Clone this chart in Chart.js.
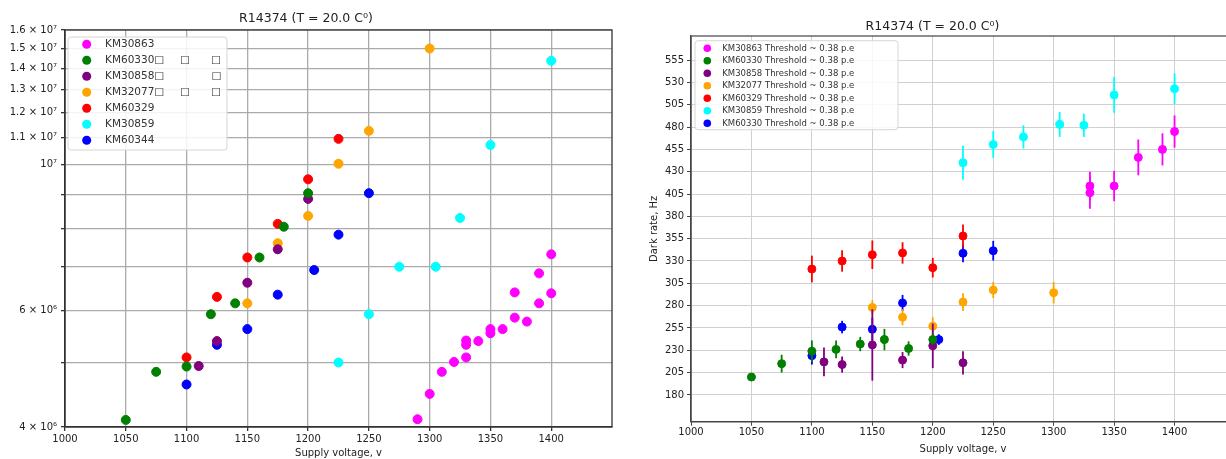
<!DOCTYPE html>
<html>
<head>
<meta charset="utf-8">
<script src="https://cdn.jsdelivr.net/npm/chart.js@4.4.1/dist/chart.umd.min.js"></script>
<style>
  html, body { margin: 0; padding: 0; background: #fff; overflow: hidden; }
  body { width: 1226px; height: 459px; position: relative; }
  .panel { position: absolute; top: 0; height: 459px; }
  #left { left: 0; width: 620px; }
  #right { left: 630px; width: 620px; }
</style>
</head>
<body>
<div class="panel" id="left"><canvas id="gainChart"></canvas></div>
<div class="panel" id="right"><canvas id="darkChart"></canvas></div>
<script>
const chartTitle = 'R14374 (T = 20.0 C\u2070)';
const xLabel = 'Supply voltage, v';
const darkLabel = 'Dark rate, Hz';

const colors = ['magenta', 'green', 'purple', 'orange', 'red', 'cyan', 'blue'];
const gainNames = ['KM30863', 'KM60330', 'KM30858', 'KM32077', 'KM60329', 'KM30859', 'KM60344'];
// the original legend shows broken glyph boxes after three names
const gainLegend = [
  'KM30863',
  'KM60330\u25A1\u2003\u2002\u25A1\u2003\u2003\u25A1',
  'KM30858\u25A1\u2003\u2003\u2003\u2003\u2002\u25A1',
  'KM32077\u25A1\u2003\u2002\u25A1\u2003\u2003\u25A1',
  'KM60329',
  'KM30859',
  'KM60344'
];
const darkNames = [
  'KM30863 Threshold ~ 0.38 p.e',
  'KM60330 Threshold ~ 0.38 p.e',
  'KM30858 Threshold ~ 0.38 p.e',
  'KM32077 Threshold ~ 0.38 p.e',
  'KM60329 Threshold ~ 0.38 p.e',
  'KM30859 Threshold ~ 0.38 p.e',
  'KM60330 Threshold ~ 0.38 p.e'
];

const voltTicks = [1000, 1050, 1100, 1150, 1200, 1250, 1300, 1350, 1400];

const gainTicks = [4e6, 5e6, 6e6, 7e6, 8e6, 9e6, 1e7, 1.1e7, 1.2e7, 1.3e7, 1.4e7, 1.5e7, 1.6e7];
const gainTickLabels = ['4 \u00d7 10\u2076', '', '6 \u00d7 10\u2076', '', '', '', '10\u2077',
  '1.1 \u00d7 10\u2077', '1.2 \u00d7 10\u2077', '1.3 \u00d7 10\u2077', '1.4 \u00d7 10\u2077',
  '1.5 \u00d7 10\u2077', '1.6 \u00d7 10\u2077'];

const darkTicks = [180, 205, 230, 255, 280, 305, 330, 355, 380, 405, 430, 455, 480, 505, 530, 555];

// gain vs voltage
const gainV_KM30863 = [1290, 1300, 1310, 1320, 1330, 1330, 1330, 1340, 1350, 1350, 1360, 1370, 1370, 1380, 1390, 1390, 1400, 1400];
const gain_KM30863 = [4.11e6, 4.49e6, 4.85e6, 5.02e6, 5.1e6, 5.33e6, 5.41e6, 5.4e6, 5.55e6, 5.63e6, 5.63e6, 5.86e6, 6.4e6, 5.78e6, 6.16e6, 6.84e6, 6.38e6, 7.31e6];
const gainV_KM60330 = [1050, 1075, 1100, 1120, 1140, 1160, 1180, 1200];
const gain_KM60330 = [4.1e6, 4.85e6, 4.94e6, 5.93e6, 6.16e6, 7.23e6, 8.05e6, 9.05e6];
const gainV_KM30858 = [1110, 1125, 1150, 1175, 1200];
const gain_KM30858 = [4.95e6, 5.4e6, 6.62e6, 7.44e6, 8.87e6];
const gainV_KM32077 = [1150, 1175, 1200, 1225, 1250, 1300];
const gain_KM32077 = [6.16e6, 7.6e6, 8.36e6, 1.003e7, 1.125e7, 1.5e7];
const gainV_KM60329 = [1100, 1125, 1150, 1175, 1200, 1225];
const gain_KM60329 = [5.1e6, 6.3e6, 7.23e6, 8.13e6, 9.5e6, 1.094e7];
const gainV_KM30859 = [1225, 1250, 1275, 1305, 1325, 1350, 1400];
const gain_KM30859 = [5.01e6, 5.93e6, 7.0e6, 7.0e6, 8.3e6, 1.071e7, 1.437e7];
const gainV_KM60344 = [1100, 1125, 1150, 1175, 1205, 1225, 1250];
const gain_KM60344 = [4.64e6, 5.33e6, 5.63e6, 6.35e6, 6.92e6, 7.83e6, 9.05e6];

// dark rate vs voltage, with errors
const darkV_KM30863 = [1330, 1330, 1350, 1370, 1390, 1400];
const dark_KM30863 = [414, 406.5, 414, 446, 455, 475];
const darkErr_KM30863 = [16, 18, 17, 20, 18, 18];
const darkV_KM60330 = [1050, 1075, 1100, 1120, 1140, 1160, 1180, 1200];
const dark_KM60330 = [200, 215, 229, 231, 237, 242, 232, 242];
const darkErr_KM60330 = [4, 10, 12, 10, 8, 12, 8, 6];
const darkV_KM30858 = [1110, 1125, 1150, 1175, 1200, 1225];
const dark_KM30858 = [217, 214, 236, 219, 235, 216];
const darkErr_KM30858 = [16, 9, 40, 9, 25, 13];
const darkV_KM32077 = [1150, 1175, 1200, 1225, 1250, 1300];
const dark_KM32077 = [278, 267, 257, 284, 297.5, 294.5];
const darkErr_KM32077 = [8, 9, 10, 10, 9, 12];
const darkV_KM60329 = [1100, 1125, 1150, 1175, 1200, 1225];
const dark_KM60329 = [321, 330, 337, 339, 322.5, 358];
const darkErr_KM60329 = [15, 12, 16, 12, 11, 13];
const darkV_KM30859 = [1225, 1250, 1275, 1305, 1325, 1350, 1400];
const dark_KM30859 = [440, 460.5, 469, 483, 482, 516, 523];
const darkErr_KM30859 = [19, 15, 13, 14, 13, 20, 17];
const darkV_KM60330b = [1100, 1125, 1150, 1175, 1205, 1225, 1250];
const dark_KM60330b = [224, 256, 253.5, 283, 242, 338.6, 341.5];
const darkErr_KM60330b = [10, 7, 13, 9, 6, 10, 11];

const gainX = [gainV_KM30863, gainV_KM60330, gainV_KM30858, gainV_KM32077, gainV_KM60329, gainV_KM30859, gainV_KM60344];
const gainY = [gain_KM30863, gain_KM60330, gain_KM30858, gain_KM32077, gain_KM60329, gain_KM30859, gain_KM60344];
const darkX = [darkV_KM30863, darkV_KM60330, darkV_KM30858, darkV_KM32077, darkV_KM60329, darkV_KM30859, darkV_KM60330b];
const darkY = [dark_KM30863, dark_KM60330, dark_KM30858, dark_KM32077, dark_KM60329, dark_KM30859, dark_KM60330b];
const darkE = [darkErr_KM30863, darkErr_KM60330, darkErr_KM30858, darkErr_KM32077, darkErr_KM60329, darkErr_KM30859, darkErr_KM60330b];

const FONT = '"DejaVu Sans", sans-serif';
Chart.defaults.font.family = FONT;
Chart.defaults.color = '#333';

const toPoints = (xs, ys) => xs.map((x, i) => ({x: x, y: ys[i]}));

const errorBars = {
  id: 'errorBars',
  beforeDatasetDraw(chart, args) {
    const ds = chart.data.datasets[args.index];
    if (!ds.err) return;
    const ctx = chart.ctx;
    const yScale = chart.scales.y;
    ctx.save();
    ctx.strokeStyle = ds.backgroundColor;
    ctx.lineWidth = 1.8;
    args.meta.data.forEach((pt, i) => {
      const v = ds.data[i].y;
      ctx.beginPath();
      ctx.moveTo(pt.x, yScale.getPixelForValue(v - ds.err[i]));
      ctx.lineTo(pt.x, yScale.getPixelForValue(v + ds.err[i]));
      ctx.stroke();
    });
    ctx.restore();
  }
};

const frame = {
  id: 'frame',
  afterDatasetsDraw(chart, args, opts) {
    const {ctx, chartArea: a} = chart;
    ctx.save();
    ctx.strokeStyle = opts.color;
    ctx.lineWidth = opts.width;
    ctx.strokeRect(a.left, a.top, a.right - a.left, a.bottom - a.top);
    ctx.restore();
  }
};

const boxLegend = {
  id: 'boxLegend',
  afterDraw(chart, args, opts) {
    const {ctx, chartArea} = chart;
    const x0 = chartArea.left + opts.dx;
    const y0 = chartArea.top + opts.dy;
    ctx.save();
    ctx.fillStyle = 'rgba(255,255,255,0.85)';
    ctx.strokeStyle = '#d5d5d5';
    ctx.lineWidth = 1;
    ctx.beginPath();
    ctx.roundRect(x0, y0, opts.width, opts.height, 3);
    ctx.fill();
    ctx.stroke();
    ctx.font = opts.fontSize + 'px ' + FONT;
    ctx.textBaseline = 'middle';
    chart.data.datasets.forEach((ds, i) => {
      const cy = y0 + opts.firstRow + i * opts.rowStep;
      ctx.fillStyle = ds.backgroundColor;
      ctx.beginPath();
      ctx.arc(x0 + opts.markerX, cy, opts.markerR, 0, Math.PI * 2);
      ctx.fill();
      ctx.fillStyle = '#333';
      ctx.fillText(ds.legendText || ds.label, x0 + opts.textX, cy);
    });
    ctx.restore();
  }
};

new Chart(document.getElementById('gainChart'), {
  type: 'scatter',
  data: {
    datasets: gainNames.map((name, i) => ({
      label: name,
      legendText: gainLegend[i],
      data: toPoints(gainX[i], gainY[i]),
      backgroundColor: colors[i],
      borderColor: colors[i],
      borderWidth: 1,
      pointRadius: 4.5,
      pointHoverRadius: 4.5
    }))
  },
  options: {
    responsive: true,
    maintainAspectRatio: false,
    animation: false,
    layout: { padding: { left: 0, right: 8, top: 0, bottom: 0 } },
    plugins: {
      legend: { display: false },
      tooltip: { enabled: false },
      title: {
        display: true, text: chartTitle, color: '#222',
        font: { size: 12.5, weight: 'normal' },
        padding: { top: 11, bottom: 4 }
      },
      frame: { color: '#333', width: 1.3 },
      boxLegend: { dx: 3, dy: 7, width: 159, height: 113, firstRow: 7.3, rowStep: 16,
        markerX: 18.7, markerR: 4.5, textX: 37, fontSize: 10.5 }
    },
    scales: {
      x: {
        type: 'linear', min: 1000, max: 1450,
        afterBuildTicks: s => { s.ticks = voltTicks.map(v => ({value: v})); },
        afterFit: s => { s.height = 32; },
        ticks: { autoSkip: false, maxRotation: 0, padding: 2, color: '#222', font: { size: 10 },
          callback: v => String(v) },
        grid: { color: '#ababab', lineWidth: 1.3, tickColor: '#333', tickLength: 4 },
        border: { display: true, color: '#333', width: 1.3 },
        title: { display: true, text: xLabel, color: '#222', font: { size: 10 }, padding: { top: 0, bottom: 0 } }
      },
      y: {
        type: 'logarithmic', min: 4e6, max: 1.6e7,
        afterBuildTicks: s => { s.ticks = gainTicks.map(v => ({value: v})); },
        afterFit: s => { s.width = 65; },
        ticks: {
          autoSkip: false, padding: 4, color: '#222', font: { size: 10 },
          callback: v => gainTickLabels[gainTicks.indexOf(v)]
        },
        grid: { color: '#ababab', lineWidth: 1.3, tickColor: '#333', tickLength: 4 },
        border: { display: true, color: '#333', width: 1.3 }
      }
    }
  },
  plugins: [errorBars, frame, boxLegend]
});

new Chart(document.getElementById('darkChart'), {
  type: 'scatter',
  data: {
    datasets: darkNames.map((name, i) => ({
      label: name,
      data: toPoints(darkX[i], darkY[i]),
      err: darkE[i],
      backgroundColor: colors[i],
      borderColor: colors[i],
      borderWidth: 1,
      pointRadius: 4,
      pointHoverRadius: 4
    }))
  },
  options: {
    responsive: true,
    maintainAspectRatio: false,
    animation: false,
    layout: { padding: { left: 0, right: 15, top: 0, bottom: 0 } },
    plugins: {
      legend: { display: false },
      tooltip: { enabled: false },
      title: {
        display: true, text: chartTitle, color: '#222',
        font: { size: 12.5, weight: 'normal' },
        padding: { top: 19, bottom: 2 }
      },
      frame: { color: '#444', width: 1.2 },
      boxLegend: { dx: 4, dy: 4.7, width: 203, height: 89, firstRow: 7.6, rowStep: 12.5,
        markerX: 12.3, markerR: 3.8, textX: 27.3, fontSize: 8.5 }
    },
    scales: {
      x: {
        type: 'linear', min: 1000, max: 1450,
        afterBuildTicks: s => { s.ticks = voltTicks.map(v => ({value: v})); },
        afterFit: s => { s.height = 37.3; },
        ticks: { autoSkip: false, maxRotation: 0, padding: 1, color: '#222', font: { size: 10 },
          callback: v => String(v) },
        grid: { color: '#d0d0d0', lineWidth: 1, tickColor: '#444', tickLength: 4 },
        border: { display: true, color: '#444', width: 1.2 },
        title: { display: true, text: xLabel, color: '#222', font: { size: 10 }, padding: { top: 0, bottom: 4 } }
      },
      y: {
        type: 'linear', min: 150, max: 582,
        afterBuildTicks: s => { s.ticks = darkTicks.map(v => ({value: v})); },
        afterFit: s => { s.width = 61; },
        ticks: { autoSkip: false, padding: 3, color: '#222', font: { size: 10 } },
        grid: { color: '#d0d0d0', lineWidth: 1, tickColor: '#444', tickLength: 4 },
        border: { display: true, color: '#444', width: 1.2 },
        title: { display: true, text: darkLabel, color: '#222', font: { size: 10 }, padding: { top: 18, bottom: 0 } }
      }
    }
  },
  plugins: [errorBars, frame, boxLegend]
});
</script>
</body>
</html>
